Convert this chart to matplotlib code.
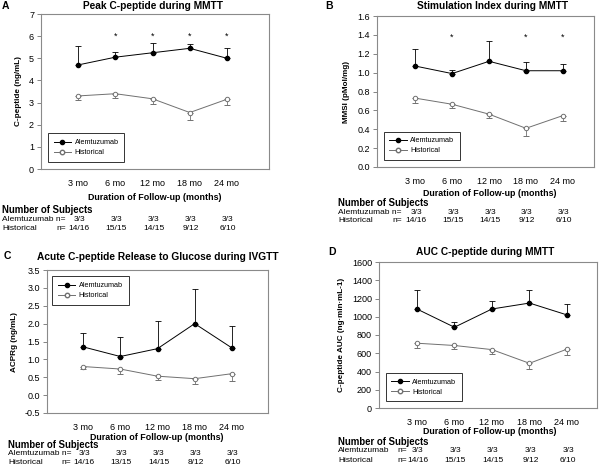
import numpy as np
import matplotlib
matplotlib.use("Agg")
import matplotlib.pyplot as plt
from matplotlib.lines import Line2D
from matplotlib.transforms import blended_transform_factory

plt.rcParams['font.family'] = ['Liberation Sans', 'DejaVu Sans']

# datos comunes
months = ["3 mo", "6 mo", "12 mo", "18 mo", "24 mo"]
xpos = np.arange(1, 6)

# A: Peak C-peptide
a_alem = [4.70, 5.05, 5.25, 5.45, 5.00]
a_alem_err = [0.85, 0.22, 0.45, 0.20, 0.47]
a_hist = [3.30, 3.40, 3.17, 2.55, 3.15]
a_hist_err = [0.20, 0.18, 0.24, 0.33, 0.28]
a_alem_n = ["3/3", "3/3", "3/3", "3/3", "3/3"]
a_hist_n = ["14/16", "15/15", "14/15", "9/12", "6/10"]

# B: MMSI
b_alem = [1.07, 0.99, 1.12, 1.02, 1.02]
b_alem_err = [0.18, 0.04, 0.22, 0.09, 0.07]
b_hist = [0.73, 0.665, 0.56, 0.41, 0.545]
b_hist_err = [0.055, 0.035, 0.04, 0.08, 0.055]
b_alem_n = ["3/3", "3/3", "3/3", "3/3", "3/3"]
b_hist_n = ["14/16", "15/15", "14/15", "9/12", "6/10"]

# C: ACPRg
c_alem = [1.35, 1.08, 1.30, 2.00, 1.32]
c_alem_err = [0.40, 0.55, 0.78, 0.97, 0.60]
c_hist = [0.80, 0.73, 0.53, 0.46, 0.60]
c_hist_err = [0.08, 0.13, 0.10, 0.16, 0.20]
c_alem_n = ["3/3", "3/3", "3/3", "3/3", "3/3"]
c_hist_n = ["14/16", "13/15", "14/15", "8/12", "6/10"]

# D: AUC
d_alem = [1085, 885, 1085, 1150, 1020]
d_alem_err = [205, 60, 85, 140, 115]
d_hist = [710, 685, 640, 490, 645]
d_hist_err = [50, 40, 45, 60, 65]
d_alem_n = ["3/3", "3/3", "3/3", "3/3", "3/3"]
d_hist_n = ["14/16", "15/15", "14/15", "9/12", "6/10"]

W, H = 600, 467
fig = plt.figure(figsize=(6, 4.67), dpi=100)


def px_axes(left, top, right, bottom):
    return fig.add_axes([left / W, 1 - bottom / H, (right - left) / W, (bottom - top) / H])


def fy(y):
    return 1 - y / H


def fx(x):
    return x / W


GRAY = '#707070'
TFS = 6.0  # tamaño de letra de la tabla


def draw_panel(ax, alem, alem_err, hist, hist_err, ylim, yticks, yfmt, xlim, ylabel):
    ax.errorbar(xpos, alem, yerr=[np.zeros(5), alem_err], color='black', lw=0.7,
                marker='o', ms=3, mfc='black', mec='black', capsize=2.3,
                elinewidth=0.6, capthick=0.6, zorder=3)
    ax.errorbar(xpos, hist, yerr=[hist_err, np.zeros(5)], color=GRAY, lw=0.7,
                marker='o', ms=3.2, mfc='white', mec=GRAY, mew=0.7, capsize=2.3,
                elinewidth=0.6, capthick=0.6, zorder=3)
    ax.set_xlim(*xlim)
    ax.set_ylim(*ylim)
    ax.set_xticks(xpos)
    ax.set_xticklabels(months, fontsize=6.5)
    ax.set_yticks(yticks)
    ax.set_yticklabels([yfmt.format(v) for v in yticks], fontsize=6.5)
    ax.tick_params(axis='x', length=0, pad=7)
    ax.tick_params(axis='y', length=3, width=0.6, color=GRAY, pad=2)
    for s in ax.spines.values():
        s.set_color('#8a8a8a')
        s.set_linewidth(0.8)
    ax.set_ylabel(ylabel, fontsize=5.9, fontweight='bold', labelpad=5)


def legend(ax, loc, anchor):
    handles = [Line2D([], [], color='black', lw=0.7, marker='o', ms=3, mfc='black'),
               Line2D([], [], color=GRAY, lw=0.7, marker='o', ms=3.2, mfc='white', mec=GRAY)]
    leg = ax.legend(handles, ['Alemtuzumab', 'Historical'], loc=loc, bbox_to_anchor=anchor,
                    fontsize=5.2, frameon=True, fancybox=False, edgecolor='black',
                    handlelength=2.4, borderpad=0.8, labelspacing=0.4, handletextpad=0.5,
                    borderaxespad=0)
    leg.get_frame().set_linewidth(0.7)


def table(ax, alem_n, hist_n, y0, x0, nx_alem, nx_hist, step=9.0, dx=1):
    tr = blended_transform_factory(ax.transData, fig.transFigure)
    fig.text(fx(x0), fy(y0), "Number of Subjects", fontsize=6.9, fontweight='bold',
             ha='left', va='center')
    if nx_alem is None:
        fig.text(fx(x0), fy(y0 + step), "Alemtuzumab n=", fontsize=TFS, ha='left', va='center')
    else:
        fig.text(fx(x0), fy(y0 + step), "Alemtuzumab", fontsize=TFS, ha='left', va='center')
        fig.text(fx(nx_alem), fy(y0 + step), "n=", fontsize=TFS, ha='left', va='center')
    fig.text(fx(x0), fy(y0 + 2 * step), "Historical", fontsize=TFS, ha='left', va='center')
    fig.text(fx(nx_hist), fy(y0 + 2 * step), "n=", fontsize=TFS, ha='left', va='center')
    for i in range(5):
        off = dx / 37.0
        ax.text(xpos[i] + off, fy(y0 + step), alem_n[i], transform=tr, fontsize=TFS,
                ha='center', va='center')
        ax.text(xpos[i] + off, fy(y0 + 2 * step), hist_n[i], transform=tr, fontsize=TFS,
                ha='center', va='center')


# Panel A
axA = px_axes(41, 14, 269, 169)
draw_panel(axA, a_alem, a_alem_err, a_hist, a_hist_err, (0, 7), range(0, 8), "{:d}",
           (0.0, 6.13), "C-peptide (ng/mL)")
for i in range(1, 5):
    axA.text(xpos[i], 6.0, "*", ha='center', va='center', fontsize=6.5)
legend(axA, 'lower left', (0.03, 0.045))
fig.text(fx(153), fy(6), "Peak C-peptide during MMTT", fontsize=7.3, fontweight='bold',
         ha='center', va='center')
fig.text(fx(2), fy(6), "A", fontsize=7.5, fontweight='bold', ha='left', va='center')
fig.text(fx(155), fy(197), "Duration of Follow-up (months)", fontsize=6.4,
         fontweight='bold', ha='center', va='center')
table(axA, a_alem_n, a_hist_n, 210, 2, None, 56, step=9.5)

# Panel B
axB = px_axes(377, 16, 594, 167)
draw_panel(axB, b_alem, b_alem_err, b_hist, b_hist_err, (0, 1.6),
           np.arange(0, 1.61, 0.2), "{:.1f}", (-0.03, 5.84), "MMSI (pMol/mg)")
for i in [1, 3, 4]:
    axB.text(xpos[i], 1.37, "*", ha='center', va='center', fontsize=6.5)
legend(axB, 'lower left', (0.03, 0.045))
fig.text(fx(493), fy(6), "Stimulation Index during MMTT", fontsize=7.3, fontweight='bold',
         ha='center', va='center')
fig.text(fx(325), fy(6), "B", fontsize=7.5, fontweight='bold', ha='left', va='center')
fig.text(fx(490), fy(193), "Duration of Follow-up (months)", fontsize=6.4,
         fontweight='bold', ha='center', va='center')
table(axB, b_alem_n, b_hist_n, 203, 338, None, 392, step=9.0)

# Panel C
axC = px_axes(47, 270, 268, 413)
draw_panel(axC, c_alem, c_alem_err, c_hist, c_hist_err, (-0.5, 3.5),
           np.arange(-0.5, 3.51, 0.5), "{:.1f}", (0.03, 5.97), "ACPRg (ng/mL)")
legend(axC, 'upper left', (0.023, 0.955))
fig.text(fx(158), fy(257), "Acute C-peptide Release to Glucose during IVGTT", fontsize=7.3,
         fontweight='bold', ha='center', va='center')
fig.text(fx(4), fy(256), "C", fontsize=7.5, fontweight='bold', ha='left', va='center')
fig.text(fx(157), fy(437), "Duration of Follow-up (months)", fontsize=6.4,
         fontweight='bold', ha='center', va='center')
table(axC, c_alem_n, c_hist_n, 445, 8, None, 61, step=8.5)

# Panel D
axD = px_axes(379, 262, 597, 408)
draw_panel(axD, d_alem, d_alem_err, d_hist, d_hist_err, (0, 1600),
           range(0, 1601, 200), "{:d}", (-0.01, 5.8), "C-peptide AUC (ng\u00b7min\u00b7mL-1)")
legend(axD, 'lower left', (0.03, 0.045))
fig.text(fx(485), fy(252), "AUC C-peptide during MMTT", fontsize=7.3, fontweight='bold',
         ha='center', va='center')
fig.text(fx(328), fy(252), "D", fontsize=7.5, fontweight='bold', ha='left', va='center')
fig.text(fx(490), fy(432), "Duration of Follow-up (months)", fontsize=6.4,
         fontweight='bold', ha='center', va='center')
table(axD, d_alem_n, d_hist_n, 442, 338, 397, 397, step=9.0)

fig.savefig("out.png", dpi=100)
